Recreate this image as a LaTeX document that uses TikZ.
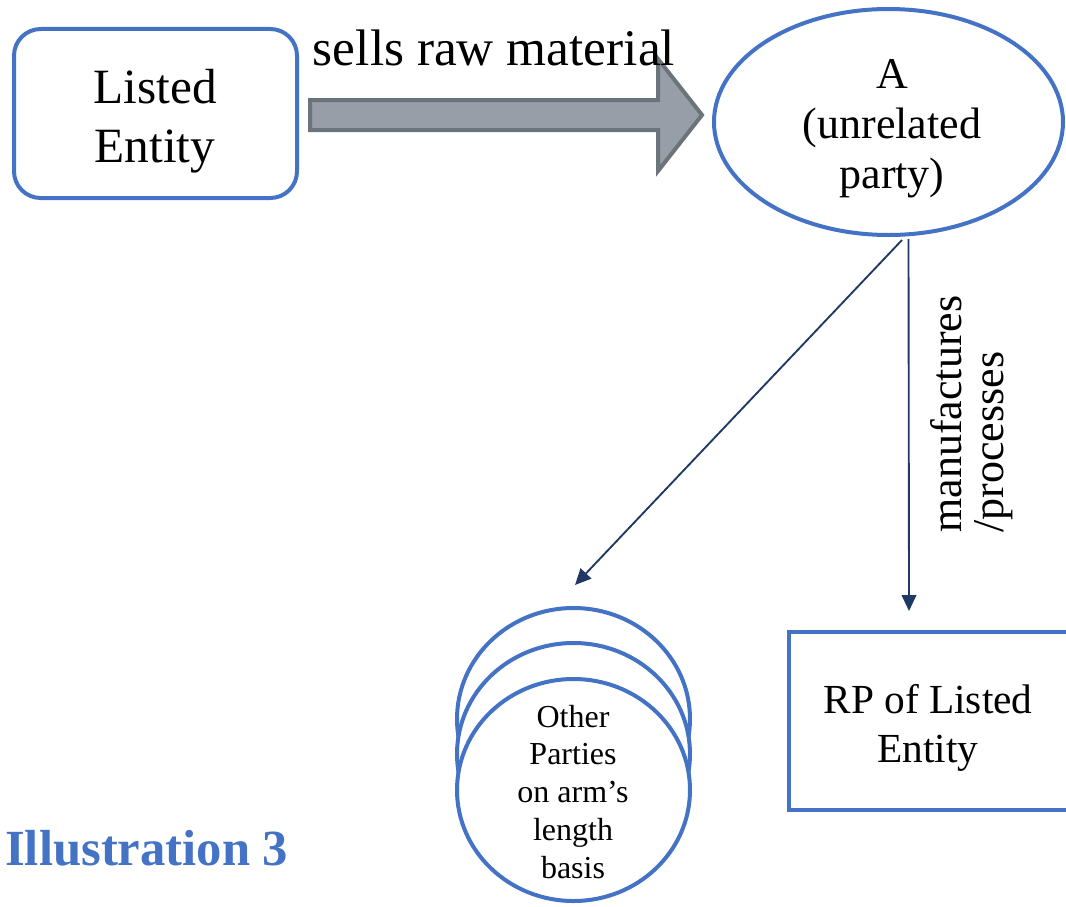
\documentclass[tikz,border=0pt]{standalone}
\usepackage{fontspec}
\setmainfont{Liberation Serif}
\usetikzlibrary{shapes.geometric,arrows.meta,calc}
\definecolor{boxblue}{HTML}{4472C4}
\definecolor{navy}{HTML}{1F3864}
\definecolor{arrowfill}{HTML}{979EA7}
\definecolor{arrowedge}{HTML}{6C747B}
\newcommand\setfs[2]{\fontsize{#1}{#2}\selectfont}
\begin{document}
\begin{tikzpicture}[x=0.75pt,y=-0.75pt,
  shapeline/.style={draw=boxblue,line width=3pt,fill=white,inner sep=0pt},
  txt/.style={align=center,inner sep=0pt},
  conn/.style={draw=navy,line width=1.4pt,-{Triangle[length=12pt,width=11pt]}},
  blockarrow/.style={fill=arrowfill,draw=arrowedge,line width=3pt,line join=miter}]
\clip (0,0) rectangle (1066,906);

% Listed entity
\node[shapeline,rounded corners=20pt,minimum width=212.25pt,minimum height=126.75pt] (listed) at (155.5,113.5) {};
\node[txt,font=\setfs{37pt}{44.25pt}] (listedtext) at ($(listed)+(-0.5,7.5)$) {Listed\\Entity};

% Unrelated party A
\node[shapeline,ellipse,minimum width=261.75pt,minimum height=169.5pt] (A) at (888.5,122) {};
\node[txt,font=\setfs{33pt}{37.5pt}] (Atext) at ($(A)+(3.5,6.5)$) {A\\(unrelated\\party)};

% Sale of raw material
\draw[blockarrow] (310,100) -- (658,100) -- (658,59) -- (702,115) -- (658,171) -- (658,130) -- (310,130) -- cycle;
\node[inner sep=0pt,anchor=base,font=\setfs{38.5pt}{44pt}] (sells) at (494,65) {sells raw material};

% Stack of other parties
\node[shapeline,ellipse,minimum width=174.75pt,minimum height=166.5pt] (others1) at (573.5,719) {};
\node[shapeline,ellipse,minimum width=174.75pt,minimum height=166.5pt] (others2) at (573.5,754) {};
\node[shapeline,ellipse,minimum width=174.75pt,minimum height=166.5pt] (others3) at (573.5,790) {};
\node[txt,font=\setfs{24pt}{28.3pt}] (otherstext) at ($(others3)+(-0.5,1.7)$) {Other\\Parties\\on arm’s\\length\\basis};

% Related party
\node[shapeline,rectangle,minimum width=210pt,minimum height=133.5pt] (rp) at (929,721) {};
\node[txt,font=\setfs{31pt}{36.75pt}] (rptext) at ($(rp)+(-1,7)$) {RP of Listed\\Entity};

% Flows out of A
\draw[conn] ($(A.south)+(13.5,3)$) -- ($(others1.north)+(1.5,-21)$);
\draw[conn] ($(A.south)+(20,2)$) -- ($(rp.north)+(-20,-19)$);
\node[align=left,inner sep=0pt,rotate=90,font=\setfs{33pt}{31.5pt}] (mfg) at (972,414) {manufactures\\/processes};

% Title
\node[inner sep=0pt,anchor=base west,text=boxblue,font=\bfseries\setfs{38pt}{44pt}] (title) at (5,865) {Illustration 3};
\end{tikzpicture}
\end{document}
